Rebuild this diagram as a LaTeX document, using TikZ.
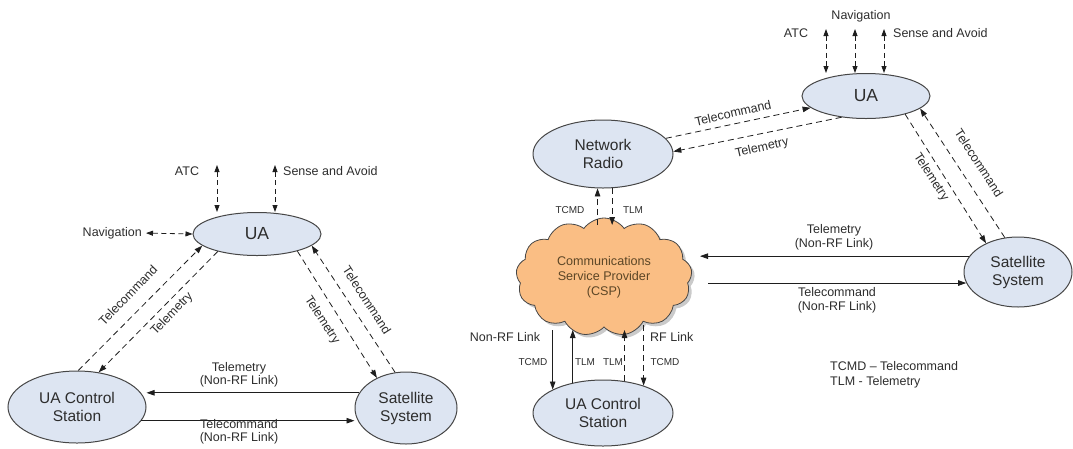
\documentclass[tikz,border=0pt]{standalone}
\usepackage{fontspec}
\setmainfont{Liberation Sans}
\usetikzlibrary{shapes.geometric,shapes.symbols,arrows.meta,shadows}

\definecolor{ellfill}{RGB}{221,229,242}
\definecolor{edgegray}{RGB}{70,70,70}
\definecolor{txt}{RGB}{45,45,45}
\definecolor{linecol}{RGB}{30,30,30}
\definecolor{cspfill}{RGB}{250,190,132}
\definecolor{csptext}{RGB}{92,70,38}

\tikzset{
  ell/.style={ellipse, draw=edgegray, line width=1pt, fill=ellfill, inner sep=0pt,
    align=center, text=txt, font=\fontsize{15.5}{18}\selectfont},
  uafont/.style={font=\fontsize{17.5}{20}\selectfont},
  lbl/.style={font=\fontsize{12.5}{13.5}\selectfont, text=txt, inner sep=0pt, align=center},
  tinylbl/.style={font=\fontsize{10}{12}\selectfont, text=txt, inner sep=0pt},
  wire/.style={draw=linecol, line width=0.8pt, -{Triangle[length=8pt,width=5.5pt]}},
  rfwire/.style={wire, dash pattern=on 6pt off 4pt},
  twoway/.style={draw=linecol, line width=0.8pt, dash pattern=on 5pt off 3.5pt,
    {Triangle[length=7pt,width=5pt]}-{Triangle[length=7pt,width=5pt]}},
}

\begin{document}
\begin{tikzpicture}[x=1pt,y=-1pt]
\useasboundingbox (0,0) rectangle (1073,448);

% ---------- direct satellite architecture ----------
\node[ell, uafont, minimum width=128pt, minimum height=43pt] (ua1) at (257,234) {UA};
\node[ell, minimum width=138pt, minimum height=72pt] (ucs1) at (77,407) {UA Control\\Station};
\node[ell, minimum width=102pt, minimum height=72pt] (sat1) at (406,408) {Satellite\\System};

\node[lbl] (atc1) at (187,171) {ATC};
\node[lbl, anchor=west] (sa1) at (283,171) {Sense and Avoid};
\node[lbl, anchor=east] (nav1) at (142,233) {Navigation};
\coordinate (atcL) at (217,165);
\coordinate (saL) at (275,165);
\draw[twoway] (atcL) -- (atcL |- ua1.north);
\draw[twoway] (saL) -- (saL |- ua1.north);
\draw[twoway, shorten <=4pt] (nav1.east) -- (ua1.west);

\draw[rfwire] (ucs1.88) -- (ua1.192);
\draw[rfwire] (ua1.204) -- (ucs1.58);
\draw[rfwire] (ua1.-23) -- (sat1.134);
\draw[rfwire] (sat1.107) -- (ua1.-12);
\node[lbl, rotate=46] (tcA1) at (128,295) {Telecommand};
\node[lbl, rotate=46] (tmA1) at (172,314) {Telemetry};
\node[lbl, rotate=-57] (tmB1) at (322,320) {Telemetry};
\node[lbl, rotate=-57] (tcB1) at (367,300) {Telecommand};

\draw[wire] (sat1.162) -- (sat1.162 -| ucs1.east);
\draw[wire] (ucs1.-12) -- (ucs1.-12 -| sat1.west);
\node[lbl] (tmL1) at (239,375) {Telemetry\\(Non-RF Link)};
\node[lbl] (tcL1) at (239,432) {Telecommand\\(Non-RF Link)};

% ---------- architecture with a communications service provider ----------
\node[ell, uafont, minimum width=128pt, minimum height=45pt] (ua2) at (866,96) {UA};
\node[ell, minimum width=140pt, minimum height=68pt] (nr) at (603,154) {Network\\Radio};
\node[cloud, cloud puffs=13, cloud puff arc=110, aspect=1.5, draw=edgegray, line width=0.8pt,
  fill=cspfill, minimum width=176pt, minimum height=118pt, inner sep=0pt, align=center,
  font=\fontsize{12.6}{15}\selectfont, text=csptext,
  drop shadow={shadow xshift=3pt, shadow yshift=-3pt, fill=gray!70, opacity=0.6}]
  (csp) at (604,277) {Communications\\Service Provider\\(CSP)};
\node[ell, minimum width=140pt, minimum height=66pt] (ucs2) at (603,413) {UA Control\\Station};
\node[ell, minimum width=108pt, minimum height=70pt] (sat2) at (1018,272) {Satellite\\System};

\node[lbl] (nav2) at (861,16) {Navigation};
\node[lbl] (atc2) at (796,33) {ATC};
\node[lbl, anchor=west] (sa2) at (893,33) {Sense and Avoid};
\coordinate (atcR) at (826,29);
\coordinate (navR) at (855,29);
\coordinate (saR) at (884,29);
\draw[twoway] (atcR) -- (atcR |- ua2.north);
\draw[twoway] (navR) -- (navR |- ua2.north);
\draw[twoway] (saR) -- (saR |- ua2.north);

\draw[rfwire] (nr.14) -- (ua2.192);
\draw[rfwire] (ua2.221) -- (nr.2);
\node[lbl, rotate=13] (tcN) at (733,113) {Telecommand};
\node[lbl, rotate=13] (tmN) at (762,148) {Telemetry};

\draw[rfwire] (ua2.-25) -- (sat2.138);
\draw[rfwire] (sat2.111) -- (ua2.-13);
\node[lbl, rotate=-57] (tmS) at (931,177) {Telemetry};
\node[lbl, rotate=-57] (tcS) at (979,163) {Telecommand};

\coordinate (cspTop) at (604,225);
\draw[rfwire] (nr.-99 |- cspTop) -- (nr.-99);
\draw[rfwire] (nr.-75) -- (nr.-75 |- cspTop);
\node[tinylbl] (tcmdN) at (570,210) {TCMD};
\node[tinylbl] (tlmN) at (633,210) {TLM};

\coordinate (cspE) at (700,256);
\draw[wire] (sat2.162) -- (sat2.162 -| cspE);
\draw[wire, shorten <=8pt] (sat2.192 -| cspE) -- (sat2.192);
\node[lbl] (tmL2) at (834,237.5) {Telemetry\\(Non-RF Link)};
\node[lbl] (tcL2) at (837,300.5) {Telecommand\\(Non-RF Link)};

\coordinate (cspB) at (604,330);
\coordinate (cspBr) at (604,325);
\draw[wire] (ucs2.155 |- cspB) -- (ucs2.155);
\draw[wire] (ucs2.135) -- (ucs2.135 |- cspB);
\draw[rfwire] (ucs2.56) -- (ucs2.56 |- cspB);
\draw[rfwire] (ucs2.34 |- cspBr) -- (ucs2.34);
\node[lbl] (nonrf) at (505,337) {Non-RF Link};
\node[lbl, anchor=west] (rf) at (650,337) {RF Link};
\node[tinylbl] (tcmdA) at (533,362) {TCMD};
\node[tinylbl] (tlmA) at (585,362) {TLM};
\node[tinylbl] (tlmB) at (613,362) {TLM};
\node[tinylbl] (tcmdB) at (665,362) {TCMD};

\node[lbl, anchor=west] (leg1) at (830,366) {TCMD – Telecommand};
\node[lbl, anchor=west] (leg2) at (830,382) {TLM - Telemetry};
\end{tikzpicture}
\end{document}
